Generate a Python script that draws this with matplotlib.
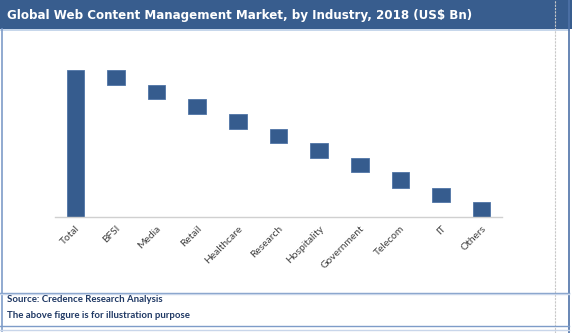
import matplotlib
matplotlib.use("Agg")
import matplotlib.pyplot as plt
from matplotlib.patches import Rectangle
from matplotlib.lines import Line2D

TITLE = "Global Web Content Management Market, by Industry, 2018 (US$ Bn)"
SOURCE = "Source: Credence Research Analysis"
NOTE = "The above figure is for illustration purpose"

categories = ["Total", "BFSI", "Media", "Retail", "Healthcare", "Research",
              "Hospitality", "Government", "Telecom", "IT", "Others"]
total = 10.0
segments = [1.0, 0.98, 1.0, 1.04, 0.95, 1.0, 1.0, 1.04, 1.0, 0.99]

BAR = "#365C8E"
EDGE = "#4F74A6"
HEADER = "#385D8E"
W, H = 572, 333


def px(x, y):
    # pixel coords (top-left origin) -> figure fraction
    return x / W, 1 - y / H


fig = plt.figure(figsize=(W / 100, H / 100), dpi=100)
fig.patch.set_facecolor("white")

# header band
x0, y0 = px(0, 29)
fig.patches.append(Rectangle((x0, y0), 1, 1 - y0, transform=fig.transFigure,
                             facecolor=HEADER, edgecolor="none", zorder=0))
fig.lines.append(Line2D([0, 569 / W], [1 - 29.5 / H] * 2, transform=fig.transFigure,
                        color="#BCD0E8", lw=1.2))
fig.text(7 / W, 1 - 15 / H, TITLE, color="white", fontsize=8.6, fontweight="bold",
         family="DejaVu Sans", va="center", ha="left")

# frame lines
fig.lines.append(Line2D([1.5 / W] * 2, [1 - 29 / H, 1 - 331 / H], transform=fig.transFigure,
                        color="#7E9CC8", lw=1.2))
fig.lines.append(Line2D([569 / W] * 2, [0, 1], transform=fig.transFigure,
                        color="#4E72A8", lw=1.2))
fig.lines.append(Line2D([555 / W] * 2, [0, 1], transform=fig.transFigure,
                        color="#C8C8C8", lw=0.8, ls=(0, (2, 1))))
for yy, c in [(292.5, "#7E9CC8"), (294, "#C9D6EA"), (325.5, "#7E9CC8"), (329.5, "#C9D6EA")]:
    fig.lines.append(Line2D([0, 569 / W], [1 - yy / H] * 2, transform=fig.transFigure,
                            color=c, lw=1.0))

fig.text(7 / W, 1 - 300 / H, SOURCE, color="#1F3864", fontsize=6.9, fontweight="bold",
         family="Lato", va="center", ha="left")
fig.text(7 / W, 1 - 316 / H, NOTE, color="#1F3864", fontsize=6.9, fontweight="bold",
         family="Lato", va="center", ha="left")

# chart
left, bottom = px(55, 217)
right, top = px(502, 60)
ax = fig.add_axes([left, bottom, right - left, top - bottom])

xs = list(range(len(categories)))
ax.bar(xs[0], total, width=0.43, color=BAR, edgecolor=EDGE, linewidth=0.6)
remaining = total
for i, v in enumerate(segments):
    ax.bar(xs[i + 1], v, bottom=remaining - v, width=0.43, color=BAR,
           edgecolor=EDGE, linewidth=0.6)
    remaining -= v

ax.set_xlim(-0.5, 10.5)
ax.set_ylim(0, total * 157 / 147)
ax.set_xticks(xs)
ax.set_xticklabels(categories, rotation=45, ha="right", rotation_mode="anchor",
                   fontsize=7.4, family="Lato", color="#404040")
ax.tick_params(axis="x", length=0, pad=5)
ax.set_yticks([])
for s in ["top", "right", "left"]:
    ax.spines[s].set_visible(False)
ax.spines["bottom"].set_color("#D0D0D0")
ax.spines["bottom"].set_linewidth(1.0)
ax.set_facecolor("none")

fig.savefig("out.png", dpi=100)
